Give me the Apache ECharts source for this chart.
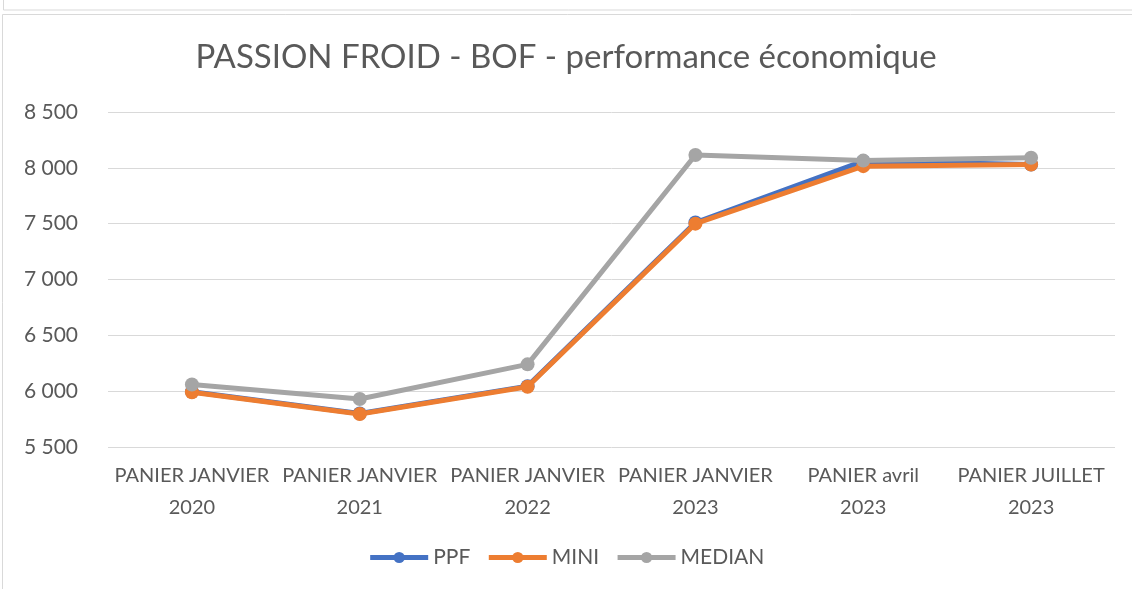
<!DOCTYPE html>
<html>
<head>
<meta charset="utf-8">
<script src="https://cdn.jsdelivr.net/npm/echarts@6/dist/echarts.min.js"></script>
<style>
  html, body { margin: 0; padding: 0; background: #fff; }
  #chart { width: 1132px; height: 589px; }
</style>
</head>
<body>
<div id="chart"></div>
<script>
const categories = [
  'PANIER JANVIER\n2020',
  'PANIER JANVIER\n2021',
  'PANIER JANVIER\n2022',
  'PANIER JANVIER\n2023',
  'PANIER avril\n2023',
  'PANIER JUILLET\n2023'
]
const ppf = [5995, 5800, 6045, 7510, 8060, 8030]
const mini = [5990, 5795, 6040, 7500, 8015, 8030]
const median = [6060, 5930, 6240, 8115, 8065, 8090]

const textColor = '#595959'
const font = 'Lato, "Open Sans", sans-serif'

const chart = echarts.init(document.getElementById('chart'))

function fmt(v) {
  return String(v).replace(/\B(?=(\d{3})+(?!\d))/g, ' ')
}

function lineSeries(name, data, color, z) {
  return {
    name,
    type: 'line',
    data,
    z,
    symbol: 'circle',
    symbolSize: 14,
    lineStyle: { color, width: 5 },
    itemStyle: { color },
    emphasis: { disabled: true }
  }
}

chart.setOption({
  animation: false,
  textStyle: { fontFamily: font },
  title: {
    text: 'PASSION FROID - BOF - performance économique',
    left: 'center',
    top: 36,
    textStyle: { color: textColor, fontSize: 33, fontWeight: 'normal', fontFamily: font }
  },
  graphic: [
    { type: 'rect', shape: { x: 3.5, y: -20, width: 1140, height: 30 },
      style: { fill: 'none', stroke: '#d9d9d9', lineWidth: 1 } },
    { type: 'rect', shape: { x: 2.5, y: 14.5, width: 1140, height: 600 },
      style: { fill: 'none', stroke: '#d9d9d9', lineWidth: 1 } }
  ],
  legend: {
    bottom: 16,
    left: 'center',
    itemWidth: 58,
    itemHeight: 14,
    itemGap: 16,
    lineStyle: { width: 5 },
    textStyle: { color: textColor, fontSize: 21, fontFamily: font },
    data: ['PPF', 'MINI', 'MEDIAN']
  },
  grid: { left: 108, right: 17, top: 112, bottom: 142 },
  xAxis: {
    type: 'category',
    data: categories,
    axisLine: { show: false },
    axisTick: { show: false },
    axisLabel: { color: textColor, fontSize: 20, lineHeight: 32, margin: 13, interval: 0, fontFamily: font }
  },
  yAxis: {
    type: 'value',
    min: 5500,
    max: 8500,
    interval: 500,
    axisLine: { show: false },
    axisTick: { show: false },
    splitLine: { lineStyle: { color: '#d9d9d9', width: 1 } },
    axisLabel: { color: textColor, fontSize: 21, margin: 30, formatter: fmt, fontFamily: font }
  },
  series: [
    lineSeries('PPF', ppf, '#4472C4', 2),
    lineSeries('MINI', mini, '#ED7D31', 3),
    lineSeries('MEDIAN', median, '#A5A5A5', 4)
  ]
})
</script>
</body>
</html>
